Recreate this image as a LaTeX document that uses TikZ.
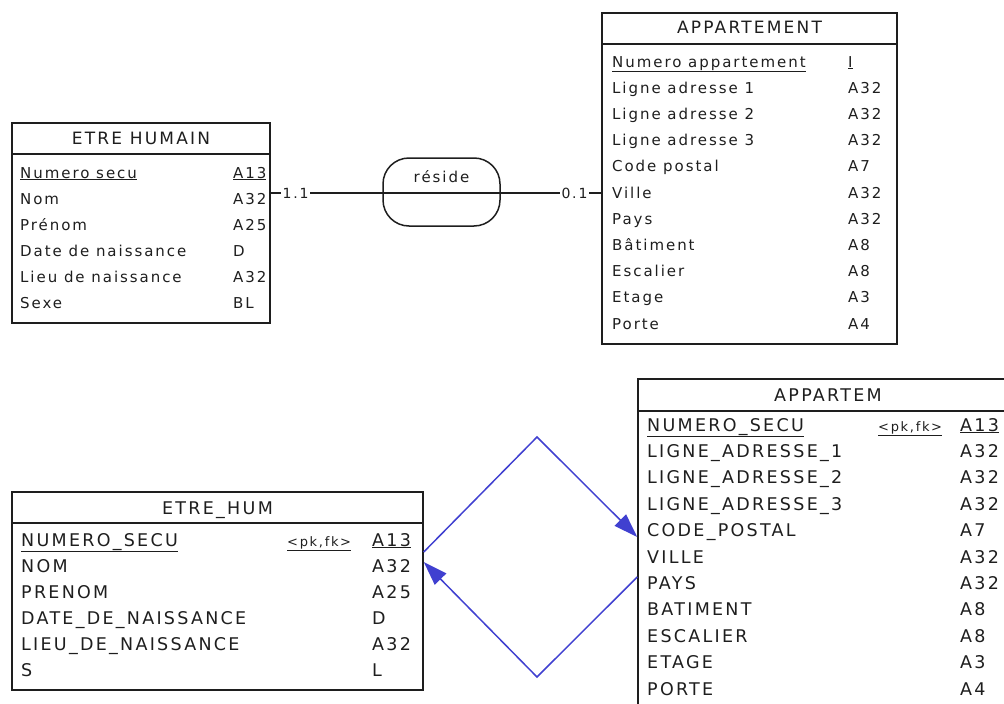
\documentclass[tikz,border=0pt]{standalone}
\usepackage{fontspec}
\setmainfont{DejaVu Sans}[LetterSpace=13]
\usepackage{tikz}
\usetikzlibrary{arrows.meta}
\definecolor{inkgray}{RGB}{30,30,30}
\definecolor{fkblue}{RGB}{64,64,208}

\begin{document}
\begin{tikzpicture}[x=1pt,y=-1pt,
		every node/.style={font=\fontsize{15}{18}\selectfont,text=inkgray,inner sep=0pt},
		table node/.style={rectangle,draw=inkgray,line width=1.5pt},
		head line/.style={draw=inkgray,line width=1.5pt},
		attr/.style={anchor=west,text height=12pt,text depth=2pt},
		big attr/.style={anchor=west,font=\fontsize{17.5}{20}\selectfont,text height=14pt,text depth=2pt},
		key attr/.style={anchor=west,font=\fontsize{13}{16}\selectfont,text height=14pt,text depth=2pt},
		title/.style={font=\fontsize{17}{20}\selectfont,text height=13pt,text depth=2pt},
		big title/.style={font=\fontsize{17.5}{20}\selectfont,text height=14pt,text depth=2pt},
		relation node/.style={rectangle,draw=inkgray,line width=1.5pt,rounded corners=26pt,minimum width=117pt,minimum height=68pt},
		rel line/.style={draw=inkgray,line width=1.5pt},
		card/.style={fill=white,inner xsep=2pt,inner ysep=1pt,font=\fontsize{14}{16}\selectfont},
		fk/.style={draw=fkblue,line width=1.5pt,-{Triangle[length=24pt,width=16pt]}}]
	
	\useasboundingbox (0,0) rectangle (1004,704);
	\clip (0,0) rectangle (1004,704);
	
	% conceptual model
	\node[table node,minimum width=258pt,minimum height=200pt] (etre) at (141,223) {};
	\draw[head line] (etre.west |- 0,154) -- (etre.east |- 0,154);
	\node[title] (etreT) at (etre.north |- 0,139) {ETRE HUMAIN};
	\node[attr] (etre-0) at (20,173) {\underline{Numero secu}};
	\node[attr] at (233,173) {\underline{A13}};
	\foreach \i/\n/\t in {1/Nom/A32,2/Prénom/A25,3/Date de naissance/D,4/Lieu de naissance/A32,5/Sexe/BL}{
		\node[attr] (etre-\i) at (20,{173+26*\i}) {\n};
		\node[attr] at (233,{173+26*\i}) {\t};
	}
	
	\node[table node,minimum width=295pt,minimum height=331pt] (appart) at (749.5,178.5) {};
	\draw[head line] (appart.west |- 0,44) -- (appart.east |- 0,44);
	\node[title] (appartT) at (appart.north |- 0,28) {APPARTEMENT};
	\node[attr] (appart-0) at (612,62) {\underline{Numero appartement}};
	\node[attr] at (848,62) {\underline{I}};
	\foreach \i/\n/\t in {1/Ligne adresse 1/A32,2/Ligne adresse 2/A32,3/Ligne adresse 3/A32,4/Code postal/A7,5/Ville/A32,6/Pays/A32,7/Bâtiment/A8,8/Escalier/A8,9/Etage/A3,10/Porte/A4}{
		\node[attr] (appart-\i) at (612,{62+26.2*\i}) {\n};
		\node[attr] at (848,{62+26.2*\i}) {\t};
	}
	
	\node[relation node] (reside) at (441.5,192) {};
	\node[attr,anchor=center] (resideT) at ([yshift=15pt]reside.center) {réside};
	
	\path (etre.east |- appart-5) edge[rel line] node[card,pos=0.075] {1.1} node[card,pos=0.919] {0.1} (appart.west |- appart-5);
	
	% physical model
	\node[table node,minimum width=411pt,minimum height=198pt] (ehum) at (217.5,591) {};
	\draw[head line] (ehum.west |- 0,523) -- (ehum.east |- 0,523);
	\node[big title] (ehumT) at (ehum.north |- 0,508) {ETRE\_HUM};
	\node[big attr] (ehum-0) at (21,540) {\underline{NUMERO\_SECU}};
	\node[key attr] at (287,540) {\underline{<pk,fk>}};
	\node[big attr] at (372,540) {\underline{A13}};
	\foreach \i/\n/\t in {1/NOM/A32,2/PRENOM/A25,3/DATE\_DE\_NAISSANCE/D,4/LIEU\_DE\_NAISSANCE/A32,5/S/L}{
		\node[big attr] (ehum-\i) at (21,{540+26*\i}) {\n};
		\node[big attr] at (372,{540+26*\i}) {\t};
	}
	
	\node[table node,minimum width=380pt,minimum height=340pt] (apm) at (828,549) {};
	\draw[head line] (apm.west |- 0,411) -- (apm.east |- 0,411);
	\node[big title] (apmT) at (apm.north |- 0,395) {APPARTEM};
	\node[big attr] (apm-0) at (647,425) {\underline{NUMERO\_SECU}};
	\node[key attr] at (878,425) {\underline{<pk,fk>}};
	\node[big attr] at (960,425) {\underline{A13}};
	\foreach \i/\n/\t in {1/LIGNE\_ADRESSE\_1/A32,2/LIGNE\_ADRESSE\_2/A32,3/LIGNE\_ADRESSE\_3/A32,4/CODE\_POSTAL/A7,5/VILLE/A32,6/PAYS/A32,7/BATIMENT/A8,8/ESCALIER/A8,9/ETAGE/A3,10/PORTE/A4}{
		\node[big attr] (apm-\i) at (647,{425+26.4*\i}) {\n};
		\node[big attr] at (960,{425+26.4*\i}) {\t};
	}
	
	\coordinate (dtop) at (537,437);
	\coordinate (dbot) at (537,677);
	\draw[fk] (ehum.east |- 0,552) -- (dtop) -- (apm.west |- 0,537);
	\draw[fk] (apm.west |- 0,577) -- (dbot) -- (ehum.east |- 0,562);
\end{tikzpicture}
\end{document}
